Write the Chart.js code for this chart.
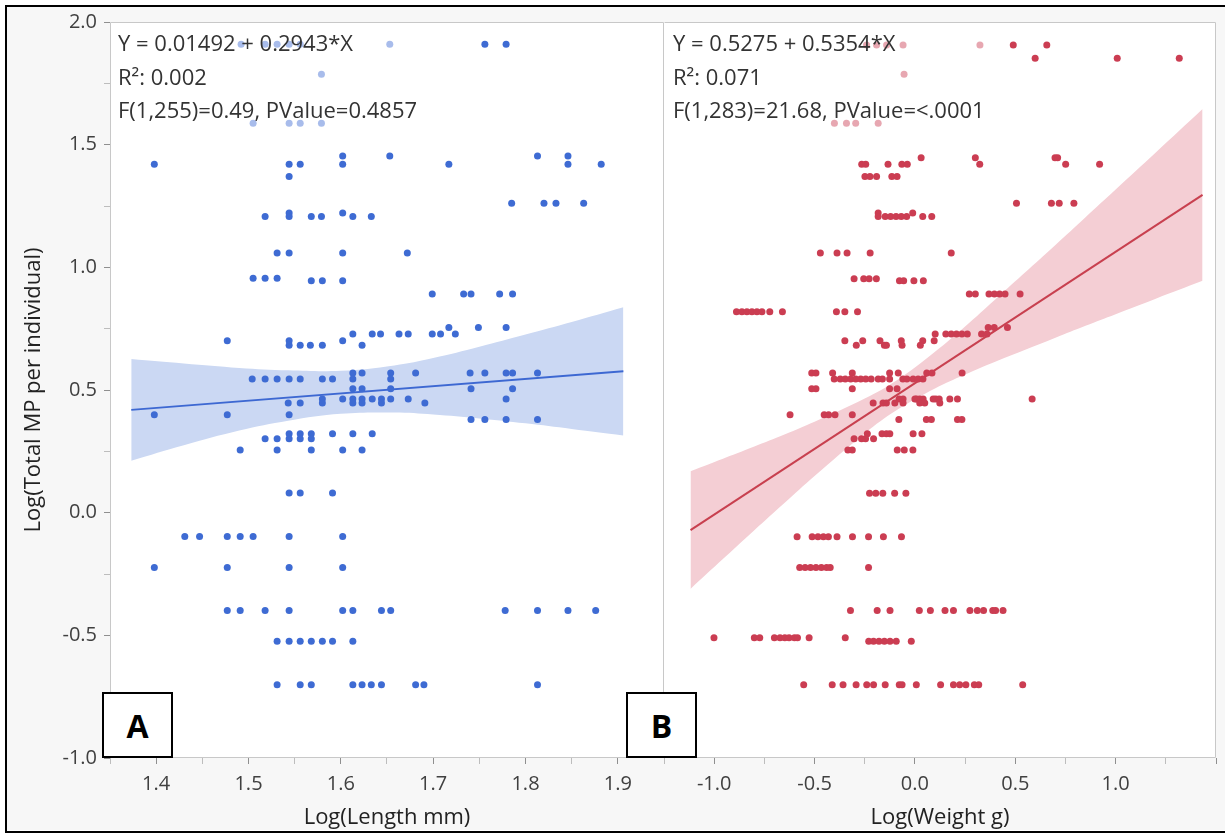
<!DOCTYPE html>
<html>
<head>
<meta charset="utf-8">
<script src="https://cdn.jsdelivr.net/npm/chart.js@4.4.1/dist/chart.umd.min.js"></script>
<style>
  html, body { margin:0; padding:0; background:#ffffff; }
  #page { position:relative; width:1225px; height:833px; overflow:hidden; background:#ffffff; }
  #bg { position:absolute; left:7px; top:7px; width:1230px; height:823px; background:#f7f7f7; }
  #frame { position:absolute; left:5px; top:5px; width:1240px; height:828px; border:2.5px solid #000; box-sizing:border-box; z-index:10; }
  canvas { position:absolute; top:0; }
  #cA { left:0; }
  #cB { left:664px; }
  .tag { position:absolute; top:692px; width:71px; height:66px; box-sizing:border-box; border:2px solid #000; background:#fff;
         font-family:'Open Sans', sans-serif; font-weight:700; font-size:32px; color:#000;
         display:flex; align-items:center; justify-content:center; z-index:5; }
</style>
</head>
<body>
<div id="page">
  <div id="bg"></div>
  <canvas id="cA" width="664" height="833"></canvas>
  <canvas id="cB" width="561" height="833"></canvas>
  <div class="tag" style="left:102px;">A</div>
  <div class="tag" style="left:626px;">B</div>
  <div id="frame"></div>
</div>
<script>
// ---------------- DATA ----------------
const yTitle = 'Log(Total MP per individual)';
const xTitleA = 'Log(Length mm)';
const xTitleB = 'Log(Weight g)';
const statLinesA = ['Y = 0.01492 + 0.2943*X', 'R\u00B2: 0.002', 'F(1,255)=0.49, PValue=0.4857'];
const statLinesB = ['Y = 0.5275 + 0.5354*X', 'R\u00B2: 0.071', 'F(1,283)=21.68, PValue=<.0001'];

// Panel A: y level of each row of points, and the Log(Length) values on that row
const mpLevelsA = [1.909, 1.787, 1.587, 1.454, 1.420, 1.370, 1.261, 1.221, 1.207, 1.058, 0.956, 0.945, 0.891, 0.755,
  0.728, 0.701, 0.682, 0.569, 0.545, 0.505, 0.463, 0.447, 0.399, 0.380, 0.322, 0.301, 0.255, 0.080, -0.097, -0.223,
  -0.399, -0.524, -0.701];
const lengthRowsA = [
  [1.492, 1.518, 1.531, 1.544, 1.556, 1.653, 1.756, 1.779],
  [1.579],
  [1.505, 1.544, 1.556, 1.579],
  [1.602, 1.653, 1.813, 1.846],
  [1.398, 1.544, 1.556, 1.602, 1.717, 1.846, 1.882],
  [1.544],
  [1.785, 1.820, 1.833, 1.863],
  [1.544, 1.602],
  [1.518, 1.544, 1.568, 1.579, 1.613, 1.633],
  [1.531, 1.544, 1.602, 1.672],
  [1.505, 1.518, 1.531],
  [1.568, 1.580, 1.602],
  [1.699, 1.733, 1.741, 1.772, 1.786],
  [1.717, 1.749, 1.779],
  [1.613, 1.634, 1.643, 1.663, 1.673, 1.699, 1.708, 1.724],
  [1.477, 1.544, 1.602],
  [1.544, 1.556, 1.567, 1.580, 1.623],
  [1.613, 1.623, 1.654, 1.681, 1.740, 1.756, 1.779, 1.786, 1.813],
  [1.504, 1.518, 1.531, 1.544, 1.556, 1.580, 1.591, 1.613, 1.654],
  [1.613, 1.623, 1.654, 1.741, 1.786],
  [1.580, 1.602, 1.613, 1.623, 1.634, 1.644, 1.654, 1.673, 1.779],
  [1.543, 1.556, 1.580, 1.613, 1.623, 1.644, 1.691],
  [1.398, 1.477, 1.544],
  [1.741, 1.756, 1.779, 1.813],
  [1.544, 1.556, 1.568, 1.591, 1.613, 1.634],
  [1.518, 1.531, 1.544, 1.556, 1.568],
  [1.491, 1.531, 1.568, 1.602, 1.623],
  [1.544, 1.556, 1.591],
  [1.431, 1.447, 1.477, 1.491, 1.505, 1.544, 1.602],
  [1.398, 1.477, 1.544, 1.602],
  [1.477, 1.491, 1.518, 1.544, 1.602, 1.613, 1.644, 1.654, 1.778, 1.813, 1.846, 1.876],
  [1.531, 1.544, 1.556, 1.568, 1.580, 1.591, 1.613],
  [1.531, 1.556, 1.568, 1.613, 1.623, 1.633, 1.644, 1.681, 1.690, 1.813]
];
const fitLineAX = [1.373, 1.906];
const fitLineAY = [0.419, 0.576];
const bandAX     = [1.373, 1.43, 1.49, 1.543, 1.60, 1.658, 1.70, 1.75, 1.80, 1.85, 1.906];
const bandAUpper = [0.626, 0.608, 0.590, 0.580, 0.578, 0.600, 0.630, 0.676, 0.726, 0.777, 0.837];
const bandALower = [0.212, 0.275, 0.335, 0.375, 0.403, 0.408, 0.400, 0.384, 0.364, 0.341, 0.315];

// Panel B
const mpLevelsB = [1.906, 1.852, 1.787, 1.587, 1.447, 1.420, 1.370, 1.261, 1.221, 1.207, 1.058, 0.953, 0.945, 0.891,
  0.819, 0.755, 0.728, 0.701, 0.682, 0.569, 0.545, 0.505, 0.463, 0.447, 0.399, 0.380, 0.322, 0.301, 0.255, 0.079,
  -0.098, -0.223, -0.399, -0.510, -0.524, -0.701];
const weightRowsB = [
  [-0.241, -0.191, -0.141, -0.059, 0.324, 0.490, 0.657],
  [0.599, 1.008, 1.317],
  [-0.054],
  [-0.401, -0.341, -0.295, -0.183],
  [0.031, 0.301, 0.698, 0.711],
  [-0.265, -0.245, -0.134, -0.065, -0.038, 0.323, 0.751, 0.920],
  [-0.249, -0.224, -0.191, -0.115, -0.089],
  [0.506, 0.680, 0.719, 0.792],
  [-0.183, -0.011],
  [-0.183, -0.148, -0.121, -0.094, -0.068, -0.041, 0.039, 0.084],
  [-0.471, -0.388, -0.338, -0.223, 0.181],
  [-0.303, -0.255, -0.228, -0.192],
  [-0.077, -0.056, -0.005, 0.042],
  [0.271, 0.301, 0.369, 0.396, 0.422, 0.449, 0.524],
  [-0.889, -0.862, -0.837, -0.812, -0.787, -0.762, -0.723, -0.660, -0.391, -0.349, -0.286],
  [0.365, 0.395, 0.461],
  [0.101, 0.154, 0.181, 0.207, 0.234, 0.261, 0.332, 0.359],
  [-0.349, -0.260, -0.174, -0.068, 0.039, 0.096],
  [-0.292, -0.152, -0.142, -0.064, 0.027],
  [-0.514, -0.493, -0.410, -0.312, -0.126, -0.083, 0.059, 0.085, 0.235],
  [-0.402, -0.372, -0.347, -0.320, -0.295, -0.270, -0.245, -0.218, -0.183, -0.162, -0.126, -0.060, -0.040, -0.009, 0.016, 0.040],
  [-0.514, -0.493, -0.312, -0.126, -0.089],
  [-0.079, -0.059, 0.000, 0.008, 0.024, 0.041, 0.091, 0.104, 0.121, 0.174, 0.212, 0.584],
  [-0.208, -0.159, -0.142, -0.100, -0.059, 0.024, 0.049, 0.124],
  [-0.622, -0.452, -0.430, -0.398, -0.312],
  [-0.080, 0.057, 0.082, 0.212, 0.234],
  [-0.237, -0.164, -0.142, -0.125, -0.009, 0.035],
  [-0.303, -0.266, -0.246, -0.206],
  [-0.334, -0.312, -0.088, -0.053, -0.010],
  [-0.226, -0.195, -0.160, -0.101, -0.045],
  [-0.587, -0.512, -0.483, -0.456, -0.431, -0.388, -0.311, -0.231, -0.157, -0.067],
  [-0.574, -0.547, -0.520, -0.493, -0.466, -0.440, -0.422, -0.231],
  [-0.321, -0.188, -0.124, 0.022, 0.077, 0.150, 0.192, 0.274, 0.311, 0.342, 0.388, 0.402, 0.439],
  [-1.001, -0.800, -0.773, -0.700, -0.672, -0.648, -0.627, -0.600, -0.585, -0.527, -0.347],
  [-0.230, -0.206, -0.179, -0.152, -0.124, -0.093, -0.018],
  [-0.554, -0.412, -0.358, -0.293, -0.240, -0.206, -0.148, -0.078, -0.064, 0.007, 0.128, 0.192, 0.223, 0.254, 0.296, 0.318, 0.537]
];
const fitLineBX = [-1.118, 1.433];
const fitLineBY = [-0.071, 1.295];
const bandBX     = [-1.118, -0.8, -0.65, -0.5, -0.25, -0.09, 0.1, 0.25, 0.4, 0.7, 0.85, 1.0, 1.2, 1.433];
const bandBUpper = [0.169, 0.270, 0.319, 0.371, 0.465, 0.540, 0.656, 0.759, 0.869, 1.091, 1.204, 1.317, 1.468, 1.645];
const bandBLower = [-0.311, -0.072, 0.039, 0.149, 0.323, 0.418, 0.506, 0.563, 0.615, 0.713, 0.762, 0.809, 0.872, 0.945];

// ---------------- HELPERS ----------------
const FONT = "'Open Sans', sans-serif";
function rowsToPoints(levels, rows) {
  const pts = [];
  levels.forEach((y, i) => rows[i].forEach(x => pts.push({x: x, y: y})));
  return pts;
}
function zip(xs, ys) { return xs.map((x, i) => ({x: x, y: ys[i]})); }
function near(v, step) { return Math.abs(v / step - Math.round(v / step)) < 1e-6; }
function fmt(v) { return Math.abs(v) < 1e-9 ? '0.0' : v.toFixed(1); }

const plotFrame = {
  id: 'plotFrame',
  beforeDraw(chart) {
    const {ctx, chartArea: a} = chart;
    ctx.save();
    ctx.fillStyle = '#ffffff';
    ctx.fillRect(a.left, a.top, a.right - a.left, a.bottom - a.top);
    ctx.restore();
  },
  afterDraw(chart, args, opts) {
    const {ctx, chartArea: a} = chart;
    const l = a.left + 0.5, r = a.right - 0.5, t = a.top + 0.5, b = a.bottom - 0.5;
    ctx.save();
    ctx.strokeStyle = '#c8c8c8';
    ctx.lineWidth = 1;
    ctx.beginPath();
    ctx.moveTo(l, t); ctx.lineTo(r, t); ctx.lineTo(r, b); ctx.lineTo(l, b);
    if (!opts.skipLeft) ctx.lineTo(l, t);
    ctx.stroke();
    ctx.restore();
  }
};
const statText = {
  id: 'statText',
  afterDatasetsDraw(chart, args, opts) {
    const ctx = chart.ctx;
    ctx.save();
    ctx.fillStyle = 'rgba(255,255,255,0.55)';
    ctx.fillRect(opts.box[0], opts.box[1], opts.box[2], opts.box[3]);
    ctx.fillStyle = '#333333';
    ctx.font = '22px ' + FONT;
    ctx.textBaseline = 'middle';
    ctx.textAlign = 'left';
    opts.lines.forEach((t, i) => ctx.fillText(t, opts.x, opts.y + i * opts.dy));
    ctx.restore();
  }
};

function tickGrid(majorStep) {
  return {
    drawOnChartArea: false, drawTicks: true, tickLength: 6,
    tickColor: c => (c.tick && near(c.tick.value, majorStep)) ? '#8f8f8f' : '#bdbdbd'
  };
}

function makeChart(id, cfg) {
  const ds = [
    { type: 'scatter', data: cfg.points, backgroundColor: cfg.dot, borderWidth: 0, pointRadius: 3.5, pointHoverRadius: 3.5 },
    { type: 'line', data: cfg.line, borderColor: cfg.lineColor, borderWidth: 2, pointRadius: 0, fill: false },
    { type: 'line', data: cfg.upper, borderWidth: 0, borderColor: 'rgba(0,0,0,0)', pointRadius: 0, tension: 0.4,
      fill: { target: '+1' }, backgroundColor: cfg.band },
    { type: 'line', data: cfg.lower, borderWidth: 0, borderColor: 'rgba(0,0,0,0)', pointRadius: 0, tension: 0.4, fill: false }
  ];
  return new Chart(document.getElementById(id), {
    type: 'scatter',
    data: { datasets: ds },
    plugins: [plotFrame, statText],
    options: {
      responsive: false, animation: false, events: [],
      layout: { padding: cfg.padding, autoPadding: false },
      plugins: { legend: { display: false }, tooltip: { enabled: false },
                 statText: cfg.stat, plotFrame: { skipLeft: !cfg.showY } },
      scales: {
        x: {
          type: 'linear', min: cfg.xMin, max: cfg.xMax,
          afterFit: s => { s.height = 75; s.paddingLeft = 0; s.paddingRight = 0; },
          border: { display: false },
          grid: tickGrid(cfg.xMajor),
          ticks: { stepSize: cfg.xStep, autoSkip: false, maxRotation: 0, padding: 8, color: '#404040',
                   font: { family: FONT, size: 20 },
                   callback: v => (near(v, cfg.xMajor) && cfg.xLabelOk(v)) ? fmt(v) : '' },
          title: { display: true, text: cfg.xTitle, color: '#222222', font: { family: FONT, size: 22 },
                   padding: { top: 0, bottom: 2 } }
        },
        y: {
          type: 'linear', min: -1, max: 2, display: cfg.showY,
          afterFit: s => { s.width = cfg.showY ? 110 : 0; s.paddingTop = 0; s.paddingBottom = 0; },
          border: { display: false },
          grid: tickGrid(0.5),
          ticks: { stepSize: 0.25, autoSkip: false, padding: 7, color: '#404040',
                   font: { family: FONT, size: 20 },
                   callback: v => near(v, 0.5) ? fmt(v) : '' },
          title: { display: cfg.showY, text: yTitle, color: '#222222', font: { family: FONT, size: 22 },
                   padding: { top: 21, bottom: 0 } }
        }
      }
    }
  });
}

makeChart('cA', {
  points: rowsToPoints(mpLevelsA, lengthRowsA),
  line: zip(fitLineAX, fitLineAY),
  upper: zip(bandAX, bandAUpper), lower: zip(bandAX, bandALower),
  dot: '#3e6bd3', lineColor: '#3d68d2', band: '#cbd8f3',
  xMin: 1.35, xMax: 1.95, xStep: 0.05, xMajor: 0.1, xLabelOk: v => true,
  xTitle: xTitleA, showY: true,
  padding: { top: 22, right: 0, bottom: 0, left: 0 },
  stat: { lines: statLinesA, x: 118, y: 45, dy: 33.5, box: [112, 28, 318, 103] }
});
makeChart('cB', {
  points: rowsToPoints(mpLevelsB, weightRowsB),
  line: zip(fitLineBX, fitLineBY),
  upper: zip(bandBX, bandBUpper), lower: zip(bandBX, bandBLower),
  dot: '#cb3d52', lineColor: '#c8404f', band: '#f4ced4',
  xMin: -1.25, xMax: 1.5, xStep: 0.25, xMajor: 0.5, xLabelOk: v => v < 1.4,
  xTitle: xTitleB, showY: false,
  padding: { top: 22, right: 9, bottom: 0, left: 0 },
  stat: { lines: statLinesB, x: 9, y: 45, dy: 33.5, box: [3, 28, 330, 103] }
});
</script>
</body>
</html>
